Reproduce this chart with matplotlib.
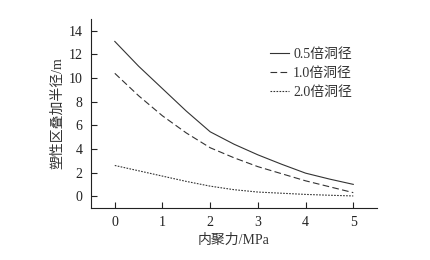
import matplotlib
matplotlib.use('Agg')
import matplotlib.pyplot as plt

plt.rcParams['font.family'] = ['Liberation Serif', 'Noto Sans CJK SC']
plt.rcParams['axes.unicode_minus'] = False

cohesion = [0, 0.5, 1, 1.5, 2, 2.5, 3, 3.5, 4, 4.5, 5]
r_05 = [13.1, 11.0, 9.1, 7.2, 5.45, 4.4, 3.5, 2.7, 1.95, 1.45, 1.0]
r_10 = [10.4, 8.5, 6.8, 5.35, 4.1, 3.25, 2.5, 1.9, 1.3, 0.8, 0.3]
r_20 = [2.6, 2.15, 1.7, 1.25, 0.85, 0.55, 0.35, 0.25, 0.15, 0.08, 0.02]
labels = ['0.5倍洞径', '1.0倍洞径', '2.0倍洞径']

fig = plt.figure(figsize=(4.31, 2.6), dpi=100)
ax = fig.add_axes([0.211, 0.2, 0.664, 0.727])

ax.plot(cohesion, r_05, color='#333333', linewidth=0.8, linestyle='-', label=labels[0])
ax.plot(cohesion, r_10, color='#333333', linewidth=0.8, linestyle=(0, (6, 3)), label=labels[1])
ax.plot(cohesion, r_20, color='#333333', linewidth=0.8, linestyle=(0, (1.5, 1.2)), label=labels[2])

ax.set_xlim(-0.5, 5.5)
ax.set_ylim(-1, 15)
ax.set_xticks([0, 1, 2, 3, 4, 5])
ax.set_yticks([0, 2, 4, 6, 8, 10, 12, 14])
ax.tick_params(direction='in', length=4, width=0.8, labelsize=10, pad=6, colors='#222222')
ax.spines['top'].set_visible(False)
ax.spines['right'].set_visible(False)
ax.spines['left'].set_color('#222222')
ax.spines['bottom'].set_color('#222222')

ax.set_xlabel('内聚力/MPa', fontsize=10, color='#333333', labelpad=3)
ax.set_ylabel('塑性区叠加半径/m', fontsize=10, color='#333333', labelpad=3)

ax.legend(loc='upper left', bbox_to_anchor=(0.6, 0.885), frameon=False, fontsize=10,
          handlelength=1.4, handletextpad=0.3, labelspacing=0.45, borderpad=0,
          labelcolor='#333333')

fig.savefig('out.png', dpi=100)
